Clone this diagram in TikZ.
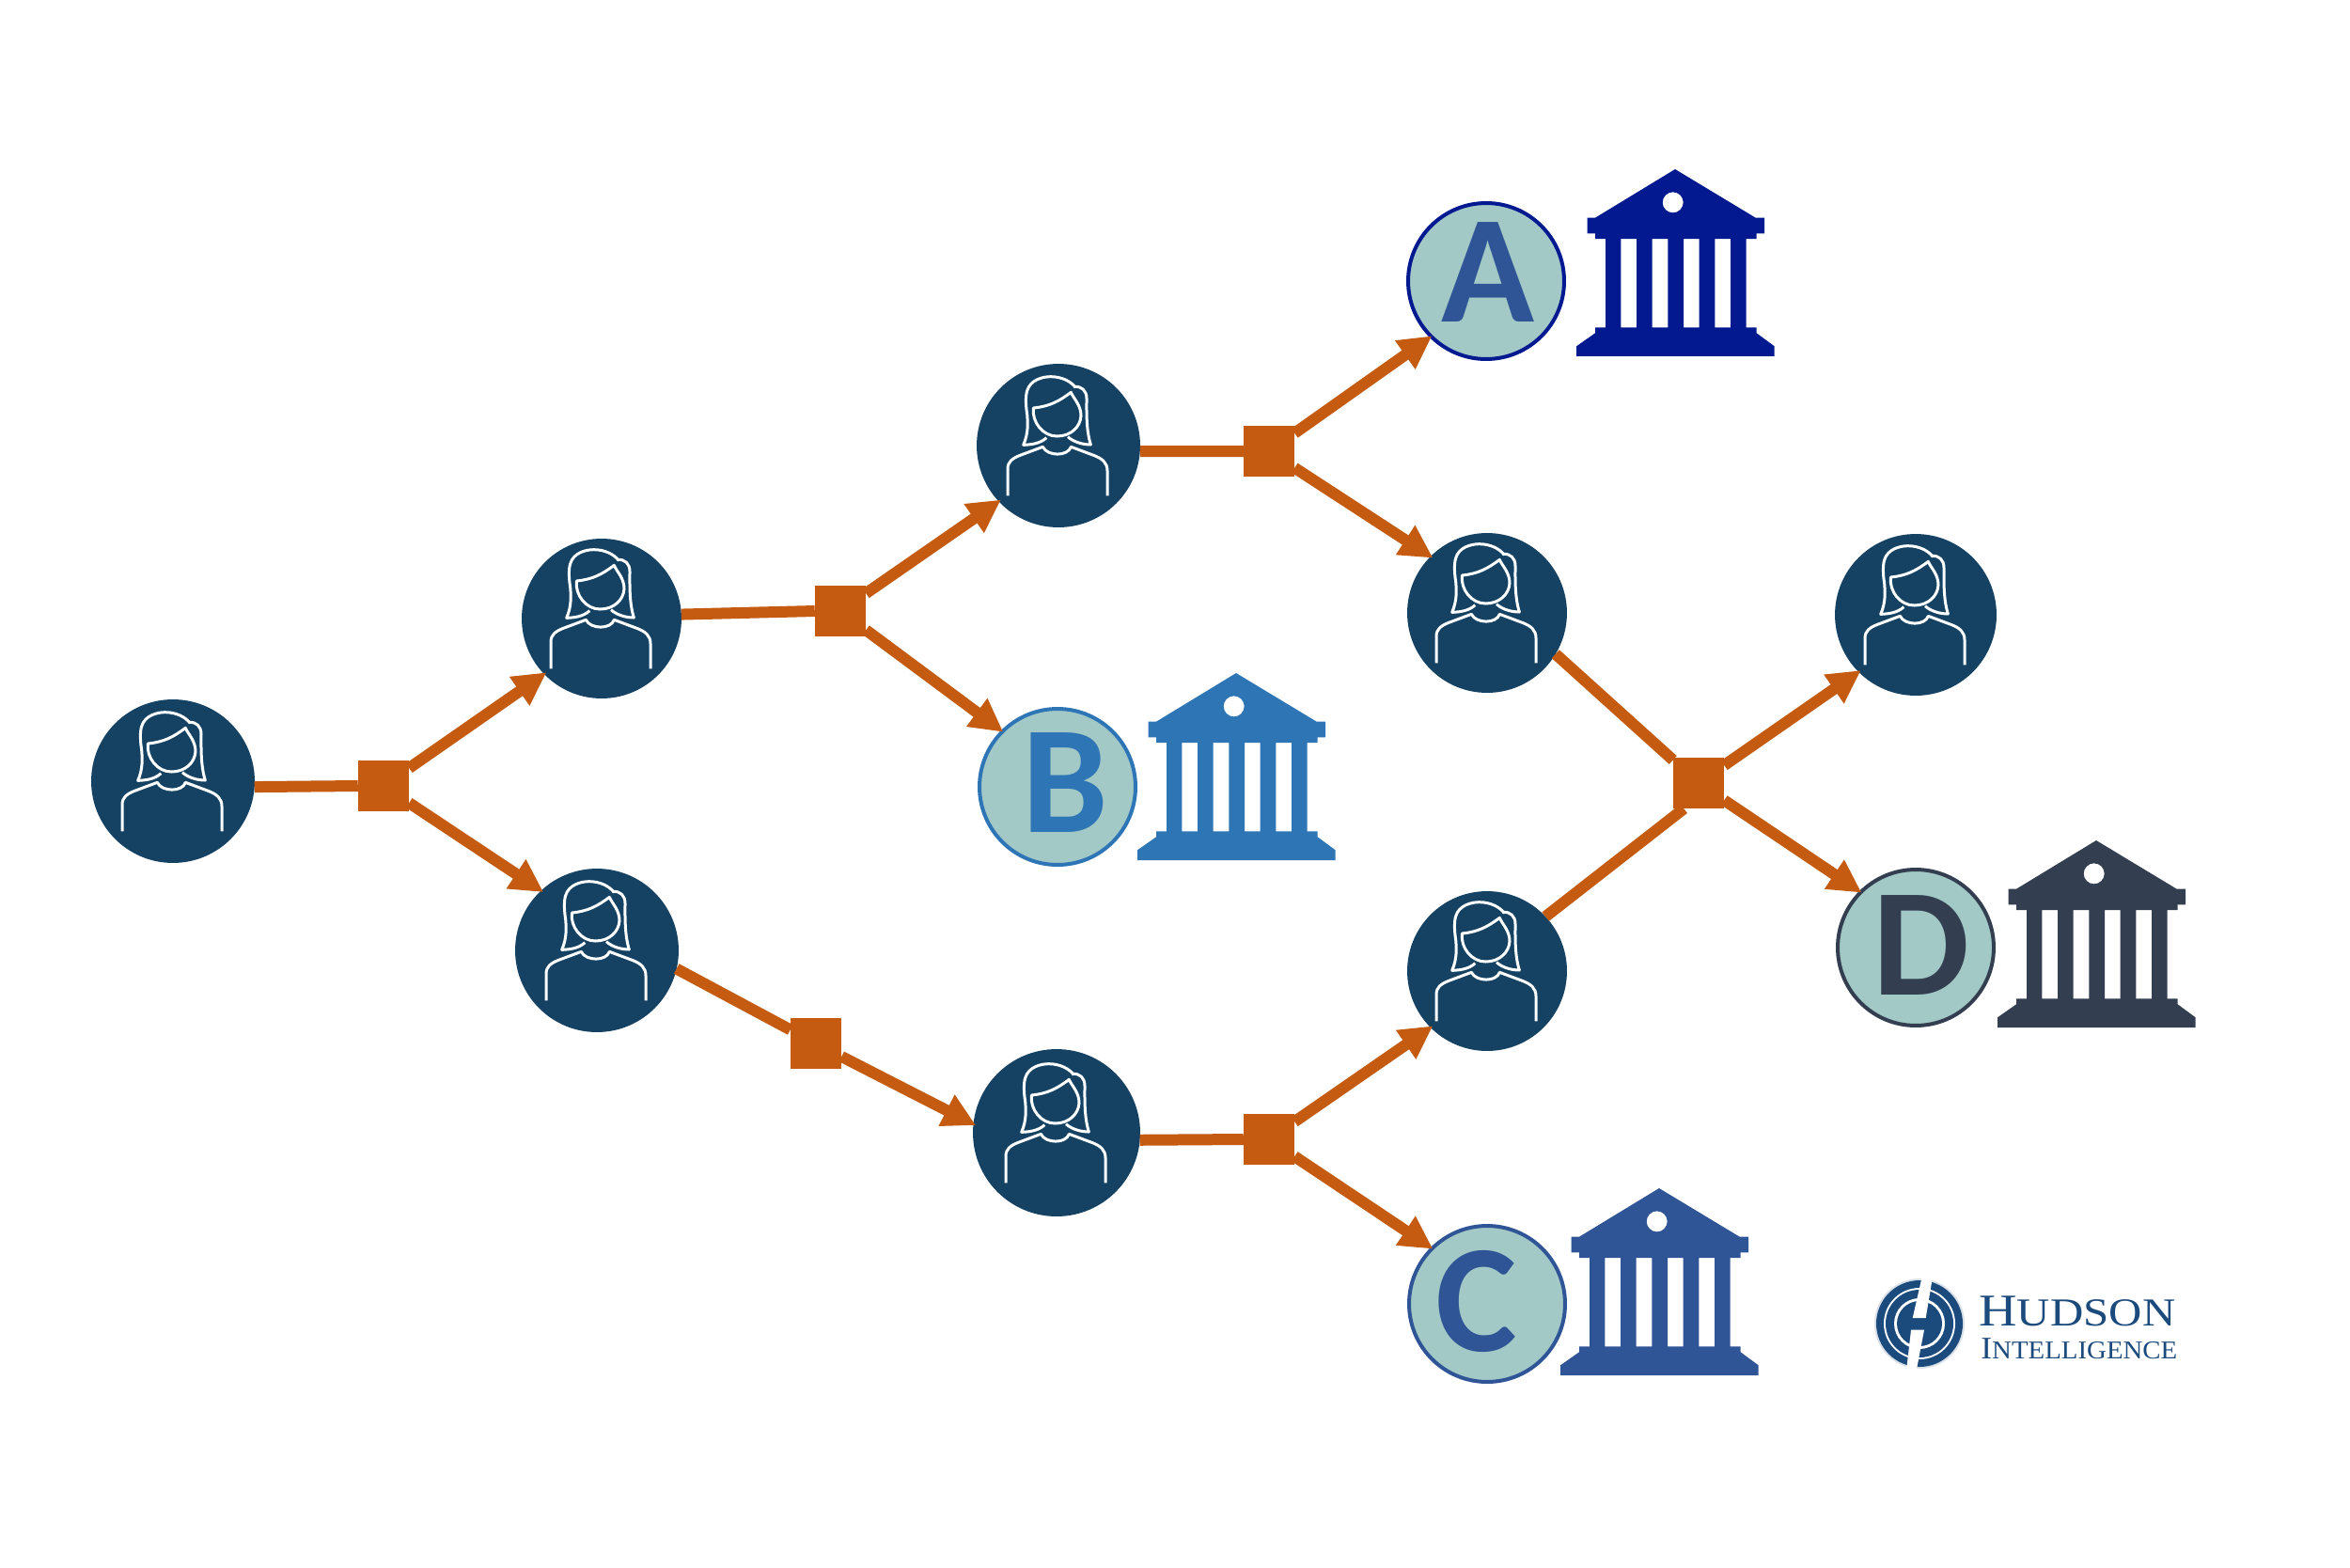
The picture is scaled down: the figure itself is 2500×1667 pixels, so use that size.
\documentclass[tikz,border=0pt]{standalone}
\usepackage{fontspec}
\usepackage{graphicx}
\usetikzlibrary{arrows.meta}
\newfontfamily\letterfont{Carlito}
\newfontfamily\logofont{Liberation Serif}
\definecolor{navy}{HTML}{154263}
\definecolor{rust}{HTML}{C55A11}
\definecolor{mist}{HTML}{A3C9C7}
\definecolor{bankA}{HTML}{02198F}
\definecolor{bankB}{HTML}{2E75B6}
\definecolor{bankC}{HTML}{2F5597}
\definecolor{bankD}{HTML}{333F50}
\definecolor{logoblue}{HTML}{1B4A7C}
\definecolor{logohalo}{HTML}{D9E0E8}
\tikzset{
  personnode/.style={circle,fill=navy,inner sep=0pt,outer sep=0pt,minimum size=#1*0.04cm},
  hubnode/.style={rectangle,fill=rust,inner sep=0pt,outer sep=0pt,minimum size=1.09cm},
  lettercircle/.style={circle,fill=mist,draw=#1,line width=0.08cm,inner sep=0pt,minimum size=3.32cm},
  lettermark/.style={inner sep=0pt,text=#1,font=\letterfont\bfseries\fontsize{93}{93}\selectfont},
  link/.style={draw=rust,line width=0.24cm},
  arrowlink/.style={link,shorten >=-0.06cm,-{Triangle[length=0.7cm,width=0.7cm]}},
  iconline/.style={draw=white,line width=0.06cm,line join=round,fill=none},
  logotext/.style={anchor=base west,inner sep=0pt,text=logoblue,font=\logofont}
}
\newcommand{\womanicon}[1]{%
\begin{scope}[shift={(#1)},x=0.00667cm,y=-0.00667cm,iconline]
  \draw (-38,-25) .. controls (-60,-5) and (-90,-3) .. (-112,-2) .. controls (-95,-40) and (-98,-75) .. (-100,-100) .. controls (-105,-130) and (-105,-160) .. (-100,-175) .. controls (-90,-210) and (-50,-220) .. (-25,-220) .. controls (10,-220) and (40,-205) .. (55,-185);
  \draw (50,-188) .. controls (75,-190) and (90,-175) .. (90,-150) .. controls (90,-110) and (88,-50) .. (103,-3) .. controls (80,-3) and (50,-10) .. (30,-28);
  \draw (-80,-120) .. controls (-30,-125) and (0,-140) .. (40,-170) .. controls (48,-150) and (72,-130) .. (72,-95) .. controls (70,-60) and (40,-30) .. (-5,-30) .. controls (-50,-30) and (-85,-75) .. (-80,-120) -- cycle;
  \draw (-162,160) -- (-162,75) .. controls (-162,50) and (-145,40) .. (-125,32) -- (-50,4) .. controls (-35,35) and (30,35) .. (40,4) -- (115,32) .. controls (140,42) and (156,55) .. (156,80) -- (156,160);
\end{scope}}
\newcommand{\bankicon}[3]{%
\begin{scope}[shift={(#1,#2)},x=0.00667cm,y=-0.00667cm]
  \fill[#3,even odd rule] (0,0) -- (257,155) -- (285,155) -- (285,205) -- (260,205) -- (260,222) -- (227,222) -- (227,505) -- (260,505) -- (260,523) -- (317,565) -- (317,597) -- (-315,597) -- (-315,565) -- (-255,523) -- (-255,505) -- (-222,505) -- (-222,222) -- (-255,222) -- (-255,205) -- (-280,205) -- (-280,155) -- (-255,155) -- cycle
  (-173,222) rectangle (-123,505) (-73,222) rectangle (-23,505) (27,222) rectangle (77,505) (127,222) rectangle (177,505)
  (-7,106) circle (33);
\end{scope}}
\begin{document}
\begin{tikzpicture}[x=0.02cm,y=-0.02cm]
\useasboundingbox (0,0) rectangle (2500,1667);
% people
\node[personnode=87] (P1) at (184,831) {};
\node[personnode=85] (P2) at (640,658) {};
\node[personnode=87] (P3) at (635,1011) {};
\node[personnode=87] (P4) at (1126,474) {};
\node[personnode=89] (P5) at (1124,1205) {};
\node[personnode=85] (P6) at (1582,652) {};
\node[personnode=85] (P7) at (1582,1033) {};
\node[personnode=86] (P8) at (2038,654) {};
% letter circles
\node[lettercircle=bankA] (A) at (1581,299) {};
\node[lettercircle=bankB] (B) at (1125,837) {};
\node[lettercircle=bankC] (C) at (1582,1387) {};
\node[lettercircle=bankD] (D) at (2038,1008) {};
\node[lettermark=bankC] (Aletter) at (1583,290) {A};
\node[lettermark=bankB] (Bletter) at (1133,833) {B};
\node[lettermark=bankC] (Cletter) at (1571,1384) {C};
\node[lettermark=bankD] (Dletter) at (2044,1006) {D};
% hubs
\node[hubnode] (S1) at (408,836) {};
\node[hubnode] (S2) at (894,650) {};
\node[hubnode] (S3) at (1350,480) {};
\node[hubnode] (S4) at (868,1110) {};
\node[hubnode] (S5) at (1350,1212) {};
\node[hubnode] (S6) at (1807,833) {};
% connectors
\draw[link] (P1.-4) -- (S1.west);
\draw[link] (P2.3) -- (S2.west);
\draw[link] (P4.-4) -- (S3.west);
\draw[link] (P3.-13) -- (S4);
\draw[link] (P5.-5) -- (S5.west);
\draw[link] (P6.-31) -- (S6);
\draw[link] (P7.43) -- (S6.240);
\draw[arrowlink] (S1) -- (P2.224);
\draw[arrowlink] (S1) -- (P3.133);
\draw[arrowlink] (S2) -- (P4.223);
\draw[arrowlink] (S2) -- (B.135);
\draw[arrowlink] (S3) -- (A.225);
\draw[arrowlink] (S3) -- (P6.135);
\draw[arrowlink] (S4) -- (P5.174);
\draw[arrowlink] (S5) -- (P7.225);
\draw[arrowlink] (S5) -- (C.135);
\draw[arrowlink] (S6) -- (P8.225);
\draw[arrowlink] (S6) -- (D.135);
% icons
\womanicon{P1}\womanicon{P2}\womanicon{P3}\womanicon{P4}\womanicon{P5}\womanicon{P6}\womanicon{P7}\womanicon{P8}
\bankicon{1782}{180}{bankA}
\bankicon{1315}{716}{bankB}
\bankicon{1765}{1264}{bankC}
\bankicon{2230}{894}{bankD}
% logo
\begin{scope}[shift={(2042,1408)}]
  \fill[logohalo] (0,0) circle (48);
  \fill[logoblue] (0,0) circle (46);
  \fill[white] (0,0) circle (38);
  \fill[logoblue] (0,0) circle (36);
  \fill[white] (0,0) circle (27);
  \fill[logoblue] (0,0) circle (24);
  \fill[white] (2.7,-50) -- (14,-50) -- (6.7,-6) -- (-7.3,-6) -- cycle;
  \fill[white] (5,6.7) -- (-3.3,50) -- (-14,50) -- (-9,6.7) -- cycle;
\end{scope}
\node[logotext] (hudson) at (2105,1410) {\scalebox{1.16}[1]{\fontsize{27.5}{27.5}\selectfont H\fontsize{24}{24}\selectfont UDSON}};
\node[logotext] (intel) at (2107,1445) {\scalebox{1.06}[1]{\fontsize{19}{19}\selectfont I\fontsize{15.5}{15.5}\selectfont NTELLIGENCE}};
\end{tikzpicture}
\end{document}
